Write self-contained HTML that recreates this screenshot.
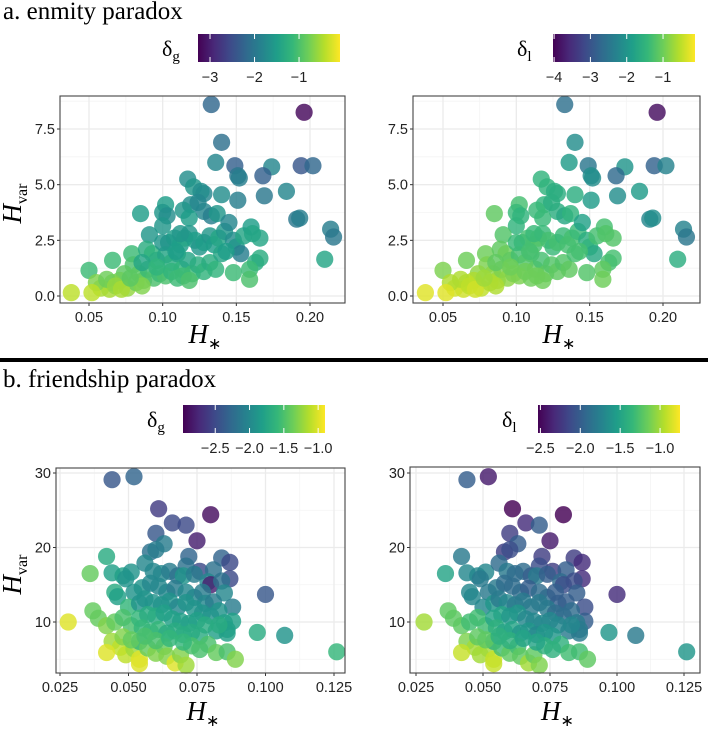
<!DOCTYPE html>
<html><head><meta charset="utf-8"><style>
body{margin:0;background:#fff;width:708px;height:729px;overflow:hidden}
svg{display:block}
.tk{font-family:"Liberation Sans",sans-serif;font-size:14.5px;fill:#222}
.ttl{font-family:"Liberation Serif",serif;font-size:25px;fill:#000}
.lg{font-family:"Liberation Serif",serif;font-size:22px;fill:#000}
.ax{font-family:"Liberation Serif",serif;font-size:27px;font-style:italic;fill:#000}
.sub{font-family:"Liberation Serif",serif;font-size:16px;font-style:normal}
</style></head><body>
<svg id="chart" width="708" height="729">
<text class="ttl" x="3" y="19">a. enmity paradox</text>
<text class="ttl" x="3" y="387">b. friendship paradox</text>
<rect x="0" y="358" width="708" height="4" fill="#000"/>
</svg>
<script>
// section a data: x=H*, y=Hvar, g=delta_g, l=delta_l
const aX=[0.133,0.196,0.140,0.136,0.149,0.151,0.152,0.174,0.168,0.194,0.202,0.184,0.169,0.151,0.140,0.117,0.121,0.128,0.126,0.119,0.124,0.128,0.133,0.137,0.102,0.100,0.103,0.085,0.114,0.118,0.100,0.091,0.104,0.108,0.112,0.115,0.118,0.122,0.125,0.128,0.132,0.135,0.138,0.142,0.145,0.148,0.150,0.153,0.155,0.160,0.161,0.166,0.166,0.163,0.159,0.159,0.148,0.191,0.193,0.214,0.216,0.210,0.066,0.050,0.079,0.089,0.093,0.096,0.102,0.106,0.110,0.113,0.117,0.120,0.124,0.128,0.132,0.136,0.140,0.143,0.080,0.084,0.087,0.090,0.094,0.098,0.102,0.106,0.110,0.114,0.118,0.074,0.071,0.076,0.082,0.086,0.064,0.066,0.058,0.055,0.052,0.038,0.062,0.068,0.072,0.078,0.086,0.096,0.100,0.109,0.112];
const aY=[8.6,8.25,6.9,6.0,5.85,5.4,5.3,5.8,5.4,5.85,5.85,4.7,4.5,4.3,4.55,5.25,4.9,4.6,4.7,4.1,4.2,3.8,3.6,3.7,4.1,3.75,3.6,3.7,3.85,3.5,3.15,2.75,2.4,2.6,2.3,2.6,2.8,2.5,2.2,2.4,2.7,2.3,2.6,2.9,3.3,2.5,2.2,1.9,2.7,3.1,2.8,2.6,1.7,1.5,1.2,0.75,1.05,3.45,3.5,3.0,2.65,1.65,1.6,1.15,1.9,2.1,1.9,1.6,1.85,1.5,1.9,1.2,1.6,1.0,1.4,1.1,1.5,1.2,1.9,2.0,1.4,1.0,0.7,1.2,0.8,1.0,0.9,1.1,0.8,0.9,0.7,1.0,0.7,0.35,0.6,0.45,0.3,0.6,0.35,0.6,0.15,0.15,0.75,0.45,0.3,0.8,1.5,1.3,2.4,2.0,2.8];
const aG=[-2.2,-3.2,-2.1,-1.8,-2.3,-2.0,-1.9,-1.8,-2.3,-2.4,-2.2,-1.8,-2.0,-1.9,-1.7,-1.7,-1.6,-1.8,-1.7,-1.7,-1.8,-1.8,-1.9,-1.6,-1.5,-1.6,-1.7,-1.5,-1.6,-1.5,-1.6,-1.6,-1.7,-1.5,-1.5,-1.4,-1.6,-1.5,-1.6,-1.5,-1.6,-1.5,-1.4,-1.6,-1.8,-1.7,-1.6,-1.9,-1.4,-1.5,-1.4,-1.4,-1.3,-1.3,-1.1,-1.0,-1.1,-2.0,-1.9,-1.9,-2.0,-1.4,-1.1,-1.1,-1.1,-1.3,-1.2,-1.3,-1.4,-1.3,-1.4,-1.2,-1.4,-1.1,-1.3,-1.2,-1.3,-1.2,-1.4,-1.5,-1.0,-0.9,-0.9,-1.1,-1.0,-1.1,-1.0,-1.2,-1.1,-1.1,-1.0,-0.9,-0.8,-0.6,-0.8,-0.7,-0.5,-0.7,-0.5,-0.7,-0.4,-0.4,-0.8,-0.6,-0.5,-0.9,-1.4,-1.2,-1.6,-1.5,-1.6];
const aL=[-2.6,-3.9,-2.1,-1.9,-2.5,-2.1,-2.1,-2.0,-2.7,-2.8,-2.3,-1.9,-2.1,-1.9,-1.6,-1.5,-1.5,-1.6,-1.6,-1.5,-1.6,-1.6,-1.7,-1.5,-1.3,-1.4,-1.5,-1.1,-1.4,-1.4,-1.5,-1.2,-1.5,-1.3,-1.3,-1.2,-1.4,-1.3,-1.4,-1.3,-1.4,-1.3,-1.3,-1.4,-1.8,-1.6,-1.5,-1.7,-1.3,-1.3,-1.2,-1.2,-1.3,-1.3,-1.1,-1.0,-1.2,-2.2,-2.1,-2.3,-2.5,-1.6,-1.0,-0.9,-1.0,-1.1,-1.0,-1.1,-1.3,-1.2,-1.2,-1.1,-1.3,-1.1,-1.2,-1.1,-1.2,-1.1,-1.3,-1.3,-0.9,-0.8,-0.7,-0.9,-0.8,-0.9,-0.9,-1.0,-1.0,-1.0,-1.0,-0.8,-0.6,-0.5,-0.6,-0.6,-0.4,-0.5,-0.4,-0.6,-0.3,-0.3,-0.6,-0.5,-0.4,-0.7,-1.1,-1.0,-1.4,-1.3,-1.4];
// section b data
const bX=[0.044,0.052,0.061,0.080,0.066,0.071,0.075,0.060,0.063,0.058,0.060,0.042,0.072,0.084,0.087,0.071,0.076,0.081,0.087,0.036,0.044,0.048,0.051,0.056,0.059,0.062,0.065,0.068,0.070,0.074,0.079,0.080,0.084,0.085,0.088,0.088,0.100,0.045,0.046,0.049,0.052,0.055,0.058,0.061,0.064,0.067,0.071,0.074,0.077,0.078,0.081,0.083,0.085,0.086,0.082,0.050,0.054,0.056,0.059,0.062,0.065,0.068,0.071,0.074,0.077,0.080,0.037,0.039,0.042,0.045,0.048,0.051,0.054,0.057,0.060,0.063,0.066,0.069,0.072,0.075,0.078,0.055,0.058,0.061,0.064,0.067,0.070,0.073,0.076,0.097,0.107,0.126,0.028,0.044,0.047,0.042,0.049,0.052,0.054,0.054,0.054,0.057,0.060,0.063,0.064,0.067,0.069,0.071,0.073,0.076,0.079,0.082,0.086,0.089,0.060,0.065,0.070,0.048,0.051,0.056,0.086,0.083];
const bY=[29.1,29.5,25.2,24.4,23.3,23.0,20.9,21.9,20.5,19.4,19.7,18.8,18.8,18.6,18.0,17.5,16.8,17.0,15.8,16.5,16.6,16.2,16.7,17.9,16.8,16.5,16.8,16.2,16.2,16.4,15.4,15.0,15.5,13.9,12.0,10.1,13.7,14.0,13.4,15.8,14.0,14.6,15.2,14.8,14.0,14.5,14.0,13.3,14.0,12.5,12.7,11.5,9.9,9.0,8.8,12.0,12.5,13.1,12.6,12.3,12.8,12.0,12.6,11.8,11.2,10.8,11.5,10.5,9.5,10.0,10.6,9.5,10.5,11.0,10.8,11.2,10.4,10.1,9.8,10.2,9.6,9.2,8.7,9.0,8.5,8.8,8.3,8.6,8.1,8.6,8.2,6.0,10.0,7.4,6.6,5.9,5.6,6.4,5.0,4.4,7.4,6.5,5.8,6.7,5.4,4.5,5.6,4.2,6.8,6.3,7.0,5.9,6.0,5.0,7.5,7.8,7.3,8.0,7.6,8.1,8.5,9.6];
const bG=[-2.4,-2.3,-2.6,-2.9,-2.5,-2.5,-2.8,-2.4,-2.1,-2.2,-2.1,-1.7,-2.3,-2.3,-2.5,-2.2,-2.5,-2.2,-2.5,-1.4,-1.8,-1.8,-1.9,-2.0,-2.0,-2.0,-2.1,-2.2,-1.9,-2.1,-2.0,-2.8,-2.2,-2.0,-2.1,-1.8,-2.4,-1.7,-1.8,-1.9,-1.9,-1.9,-2.0,-2.0,-2.0,-2.1,-2.0,-2.0,-2.1,-2.0,-2.1,-1.9,-1.8,-1.8,-1.8,-1.6,-1.9,-1.9,-1.9,-1.9,-1.9,-2.0,-1.9,-1.9,-1.9,-1.9,-1.4,-1.4,-1.3,-1.4,-1.5,-1.5,-1.6,-1.7,-1.7,-1.8,-1.8,-1.8,-1.8,-1.8,-1.7,-1.6,-1.6,-1.6,-1.7,-1.7,-1.7,-1.7,-1.7,-1.7,-1.9,-1.6,-1.0,-1.2,-1.1,-1.0,-1.1,-1.2,-1.0,-1.0,-1.6,-1.4,-1.3,-1.4,-1.3,-1.0,-1.3,-1.2,-1.5,-1.5,-1.5,-1.4,-1.5,-1.3,-1.5,-1.6,-1.6,-1.3,-1.4,-1.5,-1.8,-1.7];
const bL=[-2.0,-2.4,-2.6,-2.7,-2.3,-2.0,-2.4,-2.2,-2.0,-2.2,-2.1,-1.8,-2.2,-2.2,-2.3,-2.1,-2.2,-2.0,-2.3,-1.5,-1.7,-1.7,-1.7,-1.9,-1.8,-1.9,-1.9,-2.0,-1.8,-2.0,-1.9,-2.1,-2.1,-2.0,-2.1,-2.0,-2.3,-1.7,-1.7,-1.8,-1.8,-1.8,-1.9,-1.9,-1.9,-2.0,-1.9,-1.9,-2.0,-2.0,-2.0,-1.9,-1.8,-1.8,-1.8,-1.7,-1.6,-1.8,-1.7,-1.8,-1.8,-1.8,-1.8,-1.8,-1.9,-1.9,-1.2,-1.2,-1.2,-1.3,-1.3,-1.3,-1.5,-1.5,-1.6,-1.6,-1.7,-1.7,-1.7,-1.7,-1.7,-1.4,-1.5,-1.5,-1.6,-1.6,-1.7,-1.6,-1.6,-1.6,-1.8,-1.6,-1.0,-1.1,-1.0,-0.9,-1.0,-1.0,-0.9,-0.9,-1.4,-1.3,-1.2,-1.3,-1.2,-1.0,-1.2,-1.1,-1.4,-1.4,-1.4,-1.3,-1.3,-1.2,-1.4,-1.5,-1.5,-1.2,-1.2,-1.4,-1.8,-1.7];
const aXTicks=[0.05,0.10,0.15,0.20], aXLabels=["0.05","0.10","0.15","0.20"];
const aYTicks=[0,2.5,5,7.5], aYLabels=["0.0","2.5","5.0","7.5"];
const bXTicks=[0.025,0.05,0.075,0.1,0.125], bXLabels=["0.025","0.050","0.075","0.100","0.125"];
const bYTicks=[10,20,30], bYLabels=["10","20","30"];
const cbAgTicks=[-3,-2,-1], cbAlTicks=[-4,-3,-2,-1], cbBTicks=[-2.5,-2.0,-1.5,-1.0];
const cbAgLabels=["\u22123","\u22122","\u22121"], cbAlLabels=["\u22124","\u22123","\u22122","\u22121"], cbBLabels=["\u22122.5","\u22122.0","\u22121.5","\u22121.0"];

const NS="http://www.w3.org/2000/svg";
const svg=document.getElementById('chart');
const VIR=["#440154","#482878","#3e4989","#31688e","#26828e","#1f9e89","#35b779","#6ece58","#b5de2b","#fde725"];
function hex(h){return [1,3,5].map(i=>parseInt(h.substr(i,2),16));}
function vir(t){t=Math.max(0,Math.min(1,t));const p=t*(VIR.length-1),i=Math.min(Math.floor(p),VIR.length-2),f=p-i;const a=hex(VIR[i]),b=hex(VIR[i+1]);return `rgb(${a.map((v,k)=>Math.round(v+(b[k]-v)*f)).join(',')})`;}
function mk(tag,at,parent){const e=document.createElementNS(NS,tag);for(const k in at)e.setAttribute(k,at[k]);(parent||svg).appendChild(e);return e;}
function lin(d0,d1,r0,r1){return v=>r0+(v-d0)*(r1-r0)/(d1-d0);}

function panel(o){
  const g=mk('g',{});
  
  
  const bg=mk('rect',{x:o.x0,y:o.y0,width:o.x1-o.x0,height:o.y1-o.y0,fill:'#fff'},g);
  
  
  const sx=o.sx, sy=o.sy;
  for(let i=0;i<o.xt.length+1;i++){const v=o.xt[0]+(i-0.5)*(o.xt[1]-o.xt[0]);const px=sx(v);if(px>o.x0&&px<o.x1)mk('line',{x1:px,x2:px,y1:o.y0,y2:o.y1,stroke:'#f4f4f4','stroke-width':0.8},g);}
  for(let i=0;i<o.yt.length+1;i++){const v=o.yt[0]+(i-0.5)*(o.yt[1]-o.yt[0]);const py=sy(v);if(py>o.y0&&py<o.y1)mk('line',{y1:py,y2:py,x1:o.x0,x2:o.x1,stroke:'#f4f4f4','stroke-width':0.8},g);}
  o.xt.forEach((v,i)=>{const px=sx(v);
    const gl=mk('line',{x1:px,x2:px,y1:o.y0,y2:o.y1,stroke:'#ebebeb','stroke-width':1.3},g);
    
    mk('line',{x1:px,x2:px,y1:o.y1,y2:o.y1+3,stroke:'#333'},g);
    const t=mk('text',{x:px,y:o.y1+19,'text-anchor':'middle',class:'tk'},g);t.textContent=o.xl[i];
    });
  o.yt.forEach((v,i)=>{const py=sy(v);
    const gl=mk('line',{y1:py,y2:py,x1:o.x0,x2:o.x1,stroke:'#ebebeb','stroke-width':1.3},g);
    
    mk('line',{y1:py,y2:py,x1:o.x0-3,x2:o.x0,stroke:'#333'},g);
    const t=mk('text',{x:o.x0-5,y:py+5,'text-anchor':'end',class:'tk'},g);t.textContent=o.yl[i];
    });
  const pts=mk('g',{},g);
  
  o.X.forEach((v,i)=>{
    const c=mk('circle',{cx:sx(v),cy:sy(o.Y[i]),r:8.6,fill:vir((o.C[i]-o.c0)/(o.c1-o.c0)),'fill-opacity':0.82},pts);
    
    
  });
  const br=mk('rect',{x:o.x0,y:o.y0,width:o.x1-o.x0,height:o.y1-o.y0,fill:'none',stroke:'#444','stroke-width':1.1},g);
  
  const xt=mk('text',{x:(o.x0+o.x1)/2-14,y:o.xty,class:'ax'},g);
  xt.innerHTML='H<tspan class="sub" dy="6">\u2217</tspan>';
  
  if(o.ytitle){const yt=mk('text',{transform:`translate(${o.ytx},${(o.y0+o.y1)/2+24}) rotate(-90)`,class:'ax'},g);
    yt.innerHTML='H<tspan class="sub" dy="6">var</tspan>';
    }
  const cb=o.cb;
  const cg=mk('g',{},g);
  
  const id='grad'+o.name;
  const defs=mk('defs',{},cg);const lg=mk('linearGradient',{id:id,x1:0,x2:1,y1:0,y2:0},defs);
  VIR.forEach((c,i)=>mk('stop',{offset:(i/(VIR.length-1)),'stop-color':c},lg));
  mk('rect',{x:cb.x0,y:cb.y0,width:cb.x1-cb.x0,height:28,fill:`url(#${id})`},cg);
  const cs=lin(o.c0,o.c1,cb.x0,cb.x1);
  cb.t.forEach((v,i)=>{const px=cs(v);
    mk('line',{x1:px,x2:px,y1:cb.y0,y2:cb.y0+5,stroke:'#fff'},cg);
    mk('line',{x1:px,x2:px,y1:cb.y0+23,y2:cb.y0+28,stroke:'#fff'},cg);
    const t=mk('text',{x:px,y:cb.y0+48,'text-anchor':'middle',class:'tk'},cg);t.textContent=cb.l[i];
    });
  const lt=mk('text',{x:cb.x0-36,y:cb.y0+22,class:'lg'},cg);
  lt.innerHTML='\u03b4<tspan style="font-size:15px" dy="5">'+cb.sub+'</tspan>';
  
}
const aYs=lin(0,7.5,296,129);
panel({name:'enmity-delta-g-panel',x0:60,x1:345,y0:96,y1:303,sx:lin(0.05,0.20,89,310),sy:aYs,xt:aXTicks,xl:aXLabels,yt:aYTicks,yl:aYLabels,
  X:aX,Y:aY,C:aG,c0:-3.27,c1:-0.08,xty:343,ytitle:true,ytx:21,cb:{x0:198,x1:340,y0:34,t:cbAgTicks,l:cbAgLabels,sub:'g'}});
panel({name:'enmity-delta-l-panel',x0:413,x1:700,y0:96,y1:303,sx:lin(0.05,0.20,443,663),sy:aYs,xt:aXTicks,xl:aXLabels,yt:aYTicks,yl:aYLabels,
  X:aX,Y:aY,C:aL,c0:-4.03,c1:-0.12,xty:343,ytitle:false,cb:{x0:553,x1:695,y0:34,t:cbAlTicks,l:cbAlLabels,sub:'l'}});
const bYs=lin(10,30,622,473);
panel({name:'friendship-delta-g-panel',x0:56,x1:345,y0:468,y1:673,sx:lin(0.025,0.125,60,334),sy:bYs,xt:bXTicks,xl:bXLabels,yt:bYTicks,yl:bYLabels,
  X:bX,Y:bY,C:bG,c0:-2.97,c1:-0.9,xty:720,ytitle:true,ytx:21,cb:{x0:183,x1:325,y0:405,t:cbBTicks,l:cbBLabels,sub:'g'}});
panel({name:'friendship-delta-l-panel',x0:410,x1:700,y0:467,y1:673,sx:lin(0.025,0.125,416,684),sy:bYs,xt:bXTicks,xl:bXLabels,yt:bYTicks,yl:bYLabels,
  X:bX,Y:bY,C:bL,c0:-2.53,c1:-0.75,xty:720,ytitle:false,cb:{x0:538,x1:680,y0:405,t:cbBTicks,l:cbBLabels,sub:'l'}});
</script>
</body></html>
